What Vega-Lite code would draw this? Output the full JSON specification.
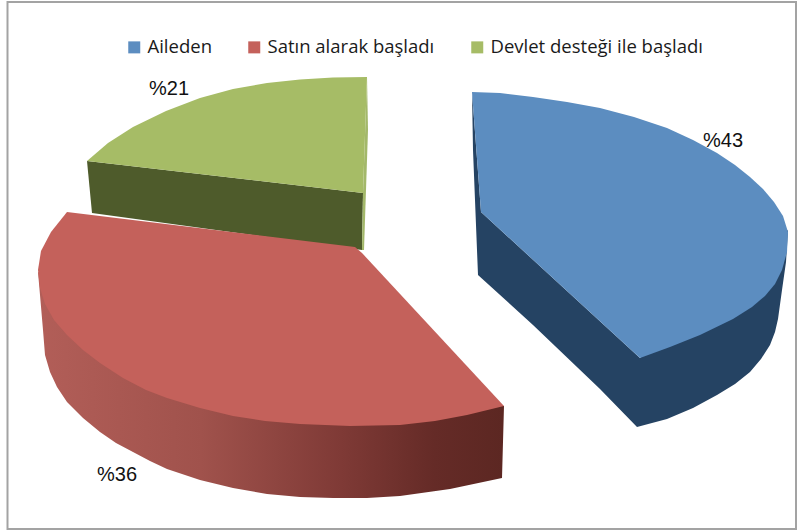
{"$schema":"https://vega.github.io/schema/vega-lite/v6.json","autosize":"none","width":797,"height":532,"padding":0,"background":"white","config":{"view":{"stroke":null}},
"datasets":{
"frame":[{"x":7.5,"x2":796,"y":2,"y2":529}],
"sideGreen":[{"i":0,"x":87,"y":161},{"i":1,"x":363,"y":193},{"i":2,"x":362,"y":250},{"i":3,"x":92,"y":213}],
"sliverGreen":[{"i":0,"x":367,"y":77},{"i":1,"x":368,"y":130},{"i":2,"x":364,"y":250},{"i":3,"x":362,"y":250},{"i":4,"x":363,"y":193}],
"sideBlue":[{"i":0,"x":472,"y":92},{"i":1,"x":473,"y":150},{"i":2,"x":478,"y":275},{"i":3,"x":533,"y":325},{"i":4,"x":600,"y":389},{"i":5,"x":637,"y":427},{"i":6,"x":667,"y":419},{"i":7,"x":693,"y":408},{"i":8,"x":717,"y":395},{"i":9,"x":735,"y":384},{"i":10,"x":750,"y":372},{"i":11,"x":761,"y":359},{"i":12,"x":770,"y":345},{"i":13,"x":775,"y":332},{"i":14,"x":778,"y":319},{"i":15,"x":782,"y":290},{"i":16,"x":786,"y":262},{"i":17,"x":788,"y":230},{"i":18,"x":640,"y":358},{"i":19,"x":481,"y":212}],
"sideRed":[{"i":0,"x":38,"y":272},{"i":1,"x":40,"y":295},{"i":2,"x":43,"y":330},{"i":3,"x":45,"y":355},{"i":4,"x":50,"y":372},{"i":5,"x":57,"y":387},{"i":6,"x":67,"y":402},{"i":7,"x":83,"y":418},{"i":8,"x":100,"y":432},{"i":9,"x":116,"y":443},{"i":10,"x":133,"y":452},{"i":11,"x":150,"y":461},{"i":12,"x":167,"y":469},{"i":13,"x":200,"y":480},{"i":14,"x":233,"y":488},{"i":15,"x":267,"y":494},{"i":16,"x":300,"y":497},{"i":17,"x":333,"y":498},{"i":18,"x":367,"y":498},{"i":19,"x":400,"y":496},{"i":20,"x":450,"y":489},{"i":21,"x":502,"y":478},{"i":22,"x":504,"y":406},{"i":23,"x":300,"y":400}],
"tops":[
{"s":"Devlet desteği ile başladı","i":0,"x":367,"y":77},{"s":"Devlet desteği ile başladı","i":1,"x":333,"y":77.5},{"s":"Devlet desteği ile başladı","i":2,"x":300,"y":79.5},{"s":"Devlet desteği ile başladı","i":3,"x":267,"y":83},{"s":"Devlet desteği ile başladı","i":4,"x":233,"y":89},{"s":"Devlet desteği ile başladı","i":5,"x":200,"y":98},{"s":"Devlet desteği ile başladı","i":6,"x":166,"y":111},{"s":"Devlet desteği ile başladı","i":7,"x":133,"y":127},{"s":"Devlet desteği ile başladı","i":8,"x":108,"y":143},{"s":"Devlet desteği ile başladı","i":9,"x":87,"y":161},{"s":"Devlet desteği ile başladı","i":10,"x":363,"y":193},
{"s":"Satın alarak başladı","i":0,"x":67,"y":212},{"s":"Satın alarak başladı","i":1,"x":355,"y":247},{"s":"Satın alarak başladı","i":2,"x":362,"y":253},{"s":"Satın alarak başladı","i":3,"x":504,"y":406},{"s":"Satın alarak başladı","i":4,"x":467,"y":415},{"s":"Satın alarak başladı","i":5,"x":435,"y":421},{"s":"Satın alarak başladı","i":6,"x":400,"y":425},{"s":"Satın alarak başladı","i":7,"x":350,"y":426},{"s":"Satın alarak başladı","i":8,"x":300,"y":424},{"s":"Satın alarak başladı","i":9,"x":265,"y":421},{"s":"Satın alarak başladı","i":10,"x":233,"y":416},{"s":"Satın alarak başladı","i":11,"x":200,"y":408},{"s":"Satın alarak başladı","i":12,"x":167,"y":398},{"s":"Satın alarak başladı","i":13,"x":146,"y":390},{"s":"Satın alarak başladı","i":14,"x":123,"y":378},{"s":"Satın alarak başladı","i":15,"x":100,"y":363},{"s":"Satın alarak başladı","i":16,"x":83,"y":350},{"s":"Satın alarak başladı","i":17,"x":67,"y":335},{"s":"Satın alarak başladı","i":18,"x":54,"y":320},{"s":"Satın alarak başladı","i":19,"x":45,"y":304},{"s":"Satın alarak başladı","i":20,"x":40,"y":288},{"s":"Satın alarak başladı","i":21,"x":38,"y":270},{"s":"Satın alarak başladı","i":22,"x":41,"y":251},{"s":"Satın alarak başladı","i":23,"x":51,"y":232},
{"s":"Aileden","i":0,"x":472,"y":92},{"s":"Aileden","i":1,"x":500,"y":93},{"s":"Aileden","i":2,"x":533,"y":97},{"s":"Aileden","i":3,"x":567,"y":102},{"s":"Aileden","i":4,"x":600,"y":108},{"s":"Aileden","i":5,"x":634,"y":117},{"s":"Aileden","i":6,"x":667,"y":128},{"s":"Aileden","i":7,"x":693,"y":140},{"s":"Aileden","i":8,"x":717,"y":153},{"s":"Aileden","i":9,"x":735,"y":165},{"s":"Aileden","i":10,"x":750,"y":177},{"s":"Aileden","i":11,"x":763,"y":189},{"s":"Aileden","i":12,"x":774,"y":202},{"s":"Aileden","i":13,"x":783,"y":216},{"s":"Aileden","i":14,"x":788,"y":232},{"s":"Aileden","i":15,"x":787,"y":252},{"s":"Aileden","i":16,"x":782,"y":270},{"s":"Aileden","i":17,"x":775,"y":284},{"s":"Aileden","i":18,"x":765,"y":296},{"s":"Aileden","i":19,"x":752,"y":307},{"s":"Aileden","i":20,"x":733,"y":319},{"s":"Aileden","i":21,"x":700,"y":335},{"s":"Aileden","i":22,"x":670,"y":347},{"s":"Aileden","i":23,"x":640,"y":358},{"s":"Aileden","i":24,"x":481,"y":212}
],
"labels":[{"t":"%21","x":149,"y":89,"f":"Open Sans"},{"t":"%36","x":97,"y":475,"f":"Open Sans"},{"t":"%43","x":703,"y":141,"f":"Liberation Sans"}]
},
"layer":[
{"data":{"name":"frame"},"mark":{"type":"rect","fill":null,"stroke":"#a3a3a3","strokeWidth":2},"encoding":{"x":{"field":"x","type":"quantitative","scale":{"domain":[0,797],"nice":false},"axis":null},"x2":{"field":"x2"},"y":{"field":"y","type":"quantitative","scale":{"domain":[532,0],"nice":false},"axis":null},"y2":{"field":"y2"}}},
{"data":{"name":"sideGreen"},"mark":{"type":"line","fill":"#4e5b2b","strokeWidth":0},"encoding":{"x":{"field":"x","type":"quantitative","axis":null},"y":{"field":"y","type":"quantitative","axis":null},"order":{"field":"i"}}},
{"data":{"name":"sliverGreen"},"mark":{"type":"line","fill":"#a3b86a","strokeWidth":0},"encoding":{"x":{"field":"x","type":"quantitative","axis":null},"y":{"field":"y","type":"quantitative","axis":null},"order":{"field":"i"}}},
{"data":{"name":"sideBlue"},"mark":{"type":"line","fill":"#254363","strokeWidth":0},"encoding":{"x":{"field":"x","type":"quantitative","axis":null},"y":{"field":"y","type":"quantitative","axis":null},"order":{"field":"i"}}},
{"data":{"name":"sideRed"},"mark":{"type":"line","strokeWidth":0,"fill":{"gradient":"linear","x1":0,"y1":0,"x2":1,"y2":0,"stops":[{"offset":0,"color":"#b25e58"},{"offset":0.35,"color":"#a0524c"},{"offset":0.65,"color":"#7f3a36"},{"offset":0.85,"color":"#652b27"},{"offset":1,"color":"#5c2722"}]}},"encoding":{"x":{"field":"x","type":"quantitative","axis":null},"y":{"field":"y","type":"quantitative","axis":null},"order":{"field":"i"}}},
{"data":{"name":"tops"},"mark":{"type":"line","strokeWidth":0},"encoding":{"x":{"field":"x","type":"quantitative","axis":null},"y":{"field":"y","type":"quantitative","axis":null},"order":{"field":"i"},"detail":{"field":"s"},"fill":{"field":"s","type":"nominal","scale":{"domain":["Aileden","Satın alarak başladı","Devlet desteği ile başladı"],"range":["#5c8dc0","#c4615b","#a6bc66"]},"legend":{"title":null,"orient":"none","legendX":125,"legendY":38,"direction":"horizontal","columns":3,"symbolType":"square","symbolSize":144,"symbolStrokeWidth":0,"labelFont":"Open Sans","labelFontSize":18.5,"labelColor":"#1a1a1a","labelOffset":4,"columnPadding":33,"labelLimit":300}}}},
{"data":{"name":"labels"},"mark":{"type":"text","align":"left","baseline":"middle","fontSize":20,"color":"#111111"},"encoding":{"x":{"field":"x","type":"quantitative","axis":null},"y":{"field":"y","type":"quantitative","axis":null},"text":{"field":"t"},"font":{"field":"f","scale":null}}}
],"resolve":{"scale":{"x":"shared","y":"shared"}}}
